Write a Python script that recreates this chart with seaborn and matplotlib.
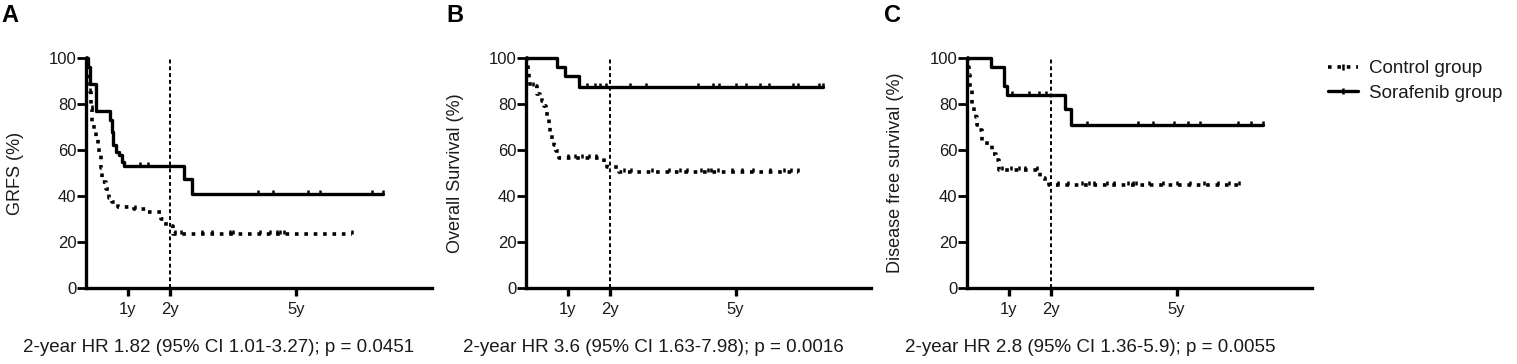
import numpy as np
import pandas as pd
import matplotlib
matplotlib.use("Agg")
import matplotlib.pyplot as plt
from matplotlib.lines import Line2D
import seaborn as sns

sns.set_style("ticks")
plt.rcParams["font.family"] = ["Liberation Sans", "DejaVu Sans"]

# ---------------- data (months) ----------------
panel_letters = ["A", "B", "C"]
ylabels = ["GRFS (%)", "Overall Survival (%)", "Disease free survival (%)"]
hr_texts = [
    "2-year HR 1.82 (95% CI 1.01-3.27); p = 0.0451",
    "2-year HR 3.6 (95% CI 1.63-7.98); p = 0.0016",
    "2-year HR 2.8 (95% CI 1.36-5.9); p = 0.0055",
]
xtick_pos = [12, 24, 60]
xtick_labels = ["1y", "2y", "5y"]
group_names = ["Control group", "Sorafenib group"]

# Panel A
a_sor_t = [0, 0.6, 1.0, 2.8, 6.9, 7.3, 7.7, 8.5, 9.4, 10.3, 10.9, 28.0, 30.2]
a_sor_s = [100, 96, 88.5, 76.9, 73, 68, 62, 59, 57.7, 55, 53, 47.5, 41]
a_sor_end = 84.8
a_sor_cens = [15.4, 17.7, 49, 53.5, 63.5, 66.7, 81.6, 84.8]
a_ctl_t = [0, 0.3, 0.6, 1.0, 1.4, 1.8, 2.3, 2.8, 3.3, 3.7, 4.2, 4.7, 5.6, 6.6,
           7.5, 9.0, 13.7, 17.0, 21.3, 22.8, 24.7]
a_ctl_s = [100, 95, 90, 85, 78, 72, 68, 65, 61, 58, 52, 46, 43, 39, 37.5, 35.3,
           34.5, 33, 30, 27, 23.5]
a_ctl_end = 76
a_ctl_cens = [1.2, 1.6, 14.0, 25.4, 27, 33, 36, 41, 42, 49.7, 52.6, 54.5, 55.4,
              56.4, 76]

# Panel B
b_sor_t = [0, 8.9, 11.3, 15.1]
b_sor_s = [100, 96.2, 92.3, 87.3]
b_sor_end = 85
b_sor_cens = [17.5, 19.7, 21.1, 23, 29.7, 34.5, 49.2, 53.5, 55.4, 60.2, 63,
              66.9, 69.7, 76.4, 77.8, 84, 85]
b_ctl_t = [0, 0.3, 0.6, 0.9, 1.2, 3.2, 4.0, 4.7, 5.2, 5.6, 6.1, 6.6, 7.0, 7.5,
           8.0, 8.5, 9.4, 22.3, 23.2, 26.6]
b_ctl_s = [100, 97, 94, 91, 88, 84.5, 83, 81.4, 79, 76.5, 73.5, 70.6, 67, 64,
           62, 59.7, 56.5, 54.5, 52.5, 50.3]
b_ctl_end = 77.8
b_ctl_cens = [2.0, 12, 14, 16, 18, 20, 28, 30, 36, 41, 44, 46, 50, 52, 53, 55,
              59, 62, 65, 70, 74, 76, 77.8]

# Panel C
c_sor_t = [0, 6.8, 10.6, 11.4, 28.0, 29.9]
c_sor_s = [100, 96, 88, 84, 78, 71]
c_sor_end = 84.7
c_sor_cens = [12.9, 17.7, 20.6, 22.5, 34.4, 49, 53.4, 59.4, 63.2, 66.6, 77.5,
              81.3, 84.7]
c_ctl_t = [0, 0.3, 0.6, 1.0, 1.5, 2.0, 2.5, 3.0, 3.4, 4.4, 5.8, 7.2, 8.2, 9.1,
           21.0, 22.3, 23.4]
c_ctl_s = [100, 96, 92.8, 86, 80, 77, 74.3, 71, 68.5, 64, 62, 58.4, 55.5, 51.5,
           48, 46.5, 44.6]
c_ctl_end = 77.8
c_ctl_cens = [10, 12.5, 15, 16.5, 20, 26, 29, 33, 35, 36.5, 40, 42, 46, 47.5,
              48.5, 52, 56, 60, 64, 68, 72, 75, 77.8]

panels = [
    dict(sor=(a_sor_t, a_sor_s, a_sor_end, a_sor_cens),
         ctl=(a_ctl_t, a_ctl_s, a_ctl_end, a_ctl_cens)),
    dict(sor=(b_sor_t, b_sor_s, b_sor_end, b_sor_cens),
         ctl=(b_ctl_t, b_ctl_s, b_ctl_end, b_ctl_cens)),
    dict(sor=(c_sor_t, c_sor_s, c_sor_end, c_sor_cens),
         ctl=(c_ctl_t, c_ctl_s, c_ctl_end, c_ctl_cens)),
]

# ---------------- figure ----------------
W, H = 1517, 364
fig = plt.figure(figsize=(W / 100, H / 100), dpi=100)

axes_px = [(86, 432), (526, 871), (967, 1312)]
y_top, y_bot = 58, 288
letters_px = [1, 446, 884]
ylabel_px = [16, 455, 896]
text_px = [23, 463, 905]

ctl_ls = (0, (1.0, 1.6))
tick_up = [(0, 0), (0, 1)]  # censor tick pointing upward


def curve_df(t, s, end):
    tt = list(t) + [end]
    ss = list(s) + [s[-1]]
    return pd.DataFrame({"t": tt, "s": ss})


def cens_df(t, s, cens):
    idx = np.searchsorted(np.asarray(t), np.asarray(cens), side="right") - 1
    return pd.DataFrame({"t": cens, "s": np.asarray(s)[idx]})


for i, p in enumerate(panels):
    l, r = axes_px[i]
    ax = fig.add_axes([l / W, 1 - y_bot / H, (r - l) / W, (y_bot - y_top) / H])
    ax.set_xlim(0, 98.8)
    ax.set_ylim(0, 100)

    # 2-year reference line
    ax.axvline(24, color="black", lw=1.4, ls=(0, (2.0, 1.5)), zorder=1)

    for key, ls, lw in (("ctl", ctl_ls, 2.6), ("sor", "-", 2.4)):
        t, s, end, cens = p[key]
        df = curve_df(t, s, end)
        sns.lineplot(data=df, x="t", y="s", ax=ax, drawstyle="steps-post",
                     estimator=None, sort=False, color="black", lw=lw,
                     linestyle=ls, clip_on=False, zorder=3)
        cd = cens_df(t, s, cens)
        sns.scatterplot(data=cd, x="t", y="s", ax=ax, marker=tick_up, s=40,
                        linewidth=1.8, color="black", edgecolor="black",
                        clip_on=False, zorder=4)

    sns.despine(ax=ax)
    for sp in ("left", "bottom"):
        ax.spines[sp].set_linewidth(2.4)
        ax.spines[sp].set_color("black")
    ax.set_yticks([0, 20, 40, 60, 80, 100])
    ax.set_xticks(xtick_pos)
    ax.set_xticklabels(xtick_labels)
    ax.tick_params(axis="y", length=6.5, width=2, pad=0.5, labelsize=12,
                   labelcolor="#1a1a1a", color="black")
    ax.tick_params(axis="x", length=6, width=2.4, pad=4, labelsize=12,
                   labelcolor="#1a1a1a", color="black")
    ax.set_xlabel("")
    ax.set_ylabel("")

    fig.text(ylabel_px[i] / W, 1 - 173 / H, ylabels[i], rotation=90,
             ha="center", va="center", fontsize=13, color="#1a1a1a")
    fig.text(letters_px[i] / W, 1 - 15 / H, panel_letters[i], ha="left",
             va="center", fontsize=17, fontweight="bold", color="black")
    fig.text(text_px[i] / W, 1 - 347 / H, hr_texts[i], ha="left",
             va="center", fontsize=13.5, color="#1a1a1a")

handles = [
    Line2D([0, 0.5, 1], [0, 0, 0], color="black", lw=2.6, ls=ctl_ls,
           marker="|", markersize=5, markeredgewidth=1.8, markevery=[1]),
    Line2D([0, 0.5, 1], [0, 0, 0], color="black", lw=2.4, ls="-",
           marker="|", markersize=5, markeredgewidth=1.8, markevery=[1]),
]
fig.legend(handles, group_names, loc="upper left",
           bbox_to_anchor=(1328 / W, 1 - 60 / H), frameon=False,
           fontsize=13.5, handlelength=1.6, handletextpad=0.6,
           labelspacing=0.4, borderpad=0, borderaxespad=0,
           labelcolor="#1a1a1a")

fig.savefig("out.png", dpi=100)
